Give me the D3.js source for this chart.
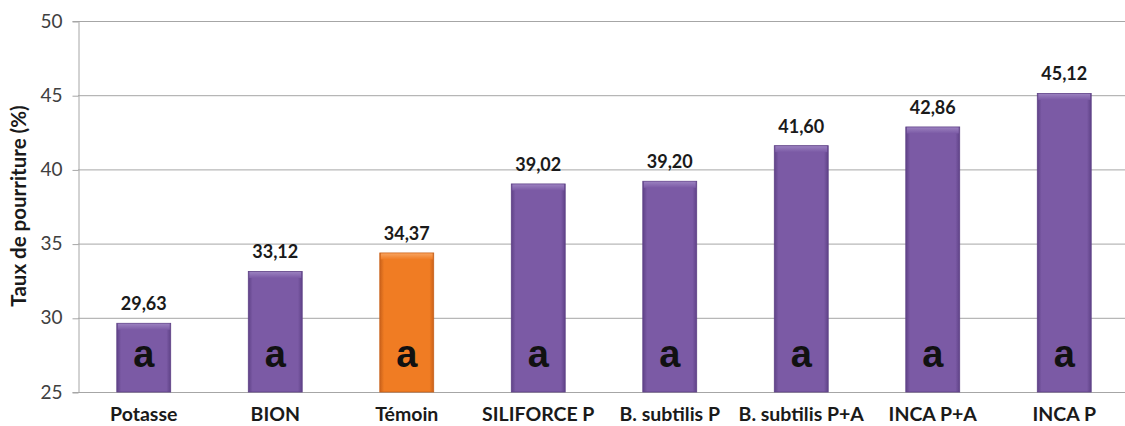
<!DOCTYPE html>
<html>
<head>
<meta charset="utf-8">
<script src="https://cdn.jsdelivr.net/npm/d3@7"></script>
<style>
  html, body { margin: 0; padding: 0; background: #fff; }
  svg { display: block; }
</style>
</head>
<body>
<svg id="chart" width="1125" height="426"></svg>
<script>
// Treatments and rot rate (%)
const categories = ["Potasse", "BION", "Témoin", "SILIFORCE P", "B. subtilis P", "B. subtilis P+A", "INCA P+A", "INCA P"];
const values = [29.63, 33.12, 34.37, 39.02, 39.20, 41.60, 42.86, 45.12];
const groups = ["a", "a", "a", "a", "a", "a", "a", "a"];
const highlighted = ["Témoin"];
const yTicks = [25, 30, 35, 40, 45, 50];
const yTitle = "Taux de pourriture (%)";

const svg = d3.select("#chart");
const W = 1125, H = 426;
const mLeft = 78, mTop = 21, mBottom = 392, mRight = 1130;

const x = d3.scaleBand().domain(categories).range([mLeft, mRight]).paddingInner(0.59).paddingOuter(0.295);
const y = d3.scaleLinear().domain([25, 50]).range([mBottom, mTop]);

const fmt = v => d3.format(".2f")(v).replace(".", ",");

// Gradients giving the bars their bevelled look
const defs = svg.append("defs");
function bevel(id, light, mid, dark) {
  const h = defs.append("linearGradient").attr("id", id + "-h").attr("x1", 0).attr("x2", 1).attr("y1", 0).attr("y2", 0);
  h.append("stop").attr("offset", "0%").attr("stop-color", dark);
  h.append("stop").attr("offset", "8%").attr("stop-color", mid);
  h.append("stop").attr("offset", "92%").attr("stop-color", mid);
  h.append("stop").attr("offset", "100%").attr("stop-color", dark);
  const v = defs.append("linearGradient").attr("id", id + "-t").attr("x1", 0).attr("x2", 0).attr("y1", 0).attr("y2", 1);
  v.append("stop").attr("offset", "0%").attr("stop-color", light);
  v.append("stop").attr("offset", "100%").attr("stop-color", mid);
}
bevel("purple", "#9a80bf", "#7b5aa5", "#5f4287");
bevel("orange", "#f7a25e", "#f07c23", "#c9611a");

// Gridlines
svg.append("g")
  .selectAll("line")
  .data(yTicks)
  .join("line")
  .attr("x1", mLeft).attr("x2", W)
  .attr("y1", d => y(d) + 0.5).attr("y2", d => y(d) + 0.5)
  .attr("stroke", "#a6a6a6").attr("stroke-width", 1);

// Y axis
const yAxis = svg.append("g")
  .attr("transform", `translate(${mLeft + 0.5},0)`)
  .call(d3.axisLeft(y).tickValues(yTicks).tickSize(6).tickPadding(10).tickFormat(d3.format("d")));
yAxis.select(".domain").attr("stroke", "#a6a6a6");
yAxis.selectAll(".tick line").attr("stroke", "#a6a6a6").attr("transform", "translate(0,0.5)");
yAxis.selectAll(".tick text")
  .attr("font-family", "Lato, 'Open Sans', sans-serif")
  .attr("font-size", 19).attr("fill", "#404040");

// Bars
const bars = svg.append("g").selectAll("g.bar")
  .data(categories.map((c, i) => ({ c, v: values[i], g: groups[i] })))
  .join("g").attr("class", "bar");

bars.append("rect")
  .attr("x", d => x(d.c))
  .attr("y", d => y(d.v))
  .attr("width", x.bandwidth())
  .attr("height", d => y(25) - y(d.v))
  .attr("fill", d => highlighted.includes(d.c) ? "url(#orange-h)" : "url(#purple-h)")
  .attr("stroke", d => highlighted.includes(d.c) ? "#c9611a" : "#5f4287")
  .attr("stroke-width", 0.8);

// Lighter bevel along the top of each bar
bars.append("rect")
  .attr("x", d => x(d.c) + 1)
  .attr("y", d => y(d.v) + 0.5)
  .attr("width", x.bandwidth() - 2)
  .attr("height", 6)
  .attr("fill", d => highlighted.includes(d.c) ? "url(#orange-t)" : "url(#purple-t)");

// Value labels
bars.append("text")
  .attr("x", d => x(d.c) + x.bandwidth() / 2)
  .attr("y", d => y(d.v) - 13)
  .attr("text-anchor", "middle")
  .attr("font-family", "Lato, 'Open Sans', sans-serif")
  .attr("font-weight", "bold")
  .attr("font-size", 18)
  .attr("fill", "#1a1a1a")
  .text(d => fmt(d.v));

// Statistical group letters
bars.append("text")
  .attr("x", d => x(d.c) + x.bandwidth() / 2)
  .attr("y", 367)
  .attr("text-anchor", "middle")
  .attr("font-family", "Liberation Sans, Arimo, Helvetica, sans-serif")
  .attr("font-weight", "bold")
  .attr("font-size", 38)
  .attr("fill", "#111")
  .text(d => d.g);

// Category labels
svg.append("g").selectAll("text")
  .data(categories)
  .join("text")
  .attr("x", d => x(d) + x.bandwidth() / 2)
  .attr("y", 421)
  .attr("text-anchor", "middle")
  .attr("font-family", "Lato, 'Open Sans', sans-serif")
  .attr("font-weight", "bold")
  .attr("font-size", 19.5)
  .attr("fill", "#1a1a1a")
  .text(d => d);

// Y axis title
svg.append("text")
  .attr("transform", `translate(26,206) rotate(-90)`)
  .attr("text-anchor", "middle")
  .attr("font-family", "Lato, 'Open Sans', sans-serif")
  .attr("font-weight", "bold")
  .attr("font-size", 20.5)
  .attr("fill", "#1a1a1a")
  .text(yTitle);
</script>
</body>
</html>
